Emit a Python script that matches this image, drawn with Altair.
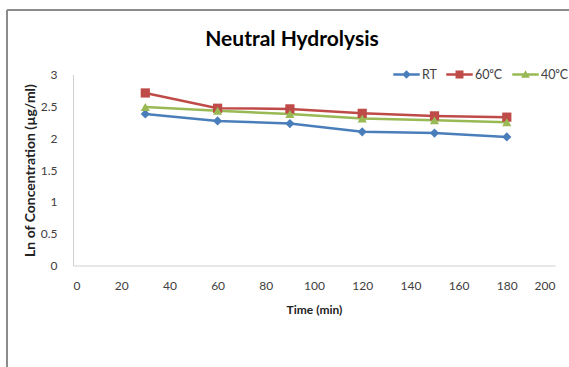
import altair as alt
import pandas as pd

time_min = [30, 60, 90, 120, 150, 180]
rt = [2.38, 2.27, 2.23, 2.10, 2.08, 2.02]
c60 = [2.71, 2.47, 2.46, 2.39, 2.35, 2.33]
c40 = [2.49, 2.43, 2.38, 2.31, 2.28, 2.25]
series_names = ["RT", "60⁰C", "40⁰C"]
series_colors = ["#4A7EBB", "#BE4B48", "#98B954"]
x_ticks = list(range(0, 201, 20))
y_ticks = [0, 0.5, 1, 1.5, 2, 2.5, 3]
chart_title = "Neutral Hydrolysis"

rows = []
for name, vals in zip(series_names, [rt, c60, c40]):
    for t, v in zip(time_min, vals):
        rows.append({"Time": t, "Value": v, "Series": name})
df = pd.DataFrame(rows)

FONT = "Lato"

x_enc = alt.X("Time:Q", scale=alt.Scale(domain=[0, 200], nice=False),
              axis=alt.Axis(values=x_ticks, title="Time (min)", grid=False, ticks=False,
                            domainColor="#d0d0d0", labelPadding=15, titlePadding=13,
                            labelFontSize=12, titleFontSize=12, titleFontWeight="bold",
                            labelColor="#404040", titleColor="#222222", labelFont=FONT, titleFont=FONT))
y_enc = alt.Y("Value:Q", scale=alt.Scale(domain=[0, 3], nice=False),
              axis=alt.Axis(values=y_ticks, format="~g", title="Ln of Concentration (µg/ml)",
                            grid=False, ticks=False,
                            domainColor="#d0d0d0", labelPadding=16, titlePadding=3,
                            labelFontSize=12, titleFontSize=14, titleFontWeight="bold",
                            labelColor="#404040", titleColor="#222222", labelFont=FONT, titleFont=FONT))
color_scale = alt.Scale(domain=series_names, range=series_colors)

lines = alt.Chart(df).mark_line(strokeWidth=2.5).encode(
    x=x_enc, y=y_enc,
    color=alt.Color("Series:N", scale=color_scale, legend=None),
)

points = alt.Chart(df).mark_point(filled=True, opacity=1, size=85).encode(
    x=x_enc, y=y_enc,
    color=alt.Color("Series:N", scale=color_scale, legend=None),
    shape=alt.Shape("Series:N", scale=alt.Scale(domain=series_names,
                                                range=["diamond", "square", "triangle-up"]), legend=None),
)

legend_paths = [
    "M-1,-0.1 L1,-0.1 L1,0.1 L-1,0.1 Z M0,-0.33 L0.33,0 L0,0.33 L-0.33,0 Z",
    "M-1,-0.1 L1,-0.1 L1,0.1 L-1,0.1 Z M-0.3,-0.3 L0.3,-0.3 L0.3,0.3 L-0.3,0.3 Z",
    "M-1,-0.1 L1,-0.1 L1,0.1 L-1,0.1 Z M0,-0.33 L0.33,0.24 L-0.33,0.24 Z",
]

leg = alt.Legend(title=None, orient="none", legendX=320, legendY=-13.5, direction="horizontal",
                 symbolSize=700, symbolStrokeWidth=0, labelFont=FONT, labelFontSize=12.5,
                 labelColor="#404040", columnPadding=9, labelOffset=2)

legend_layer = alt.Chart(df).transform_calculate(Value="-10").mark_point(
    filled=True, opacity=1, clip=True).encode(
    x=x_enc,
    y=y_enc,
    color=alt.Color("Series:N", scale=color_scale, legend=leg),
    shape=alt.Shape("Series:N", scale=alt.Scale(domain=series_names, range=legend_paths), legend=leg),
)

title_layer = alt.Chart(pd.DataFrame({"t": [chart_title]})).mark_text(
    font=FONT, fontSize=21, fontWeight="bold", color="#000000", align="center", baseline="alphabetic"
).encode(text="t:N", x=alt.value(219), y=alt.value(-28.5))

frame_v = alt.Chart(df).mark_rule(color="#8c8c8c", strokeWidth=1.5).encode(
    x=alt.value(-66), y=alt.value(-64.5), y2=alt.value(400))
frame_h = alt.Chart(df).mark_rule(color="#8c8c8c", strokeWidth=1.5).encode(
    x=alt.value(-66), x2=alt.value(600), y=alt.value(-64.5))

chart = alt.layer(lines, points, legend_layer, title_layer, frame_v, frame_h).resolve_scale(
    shape="independent", color="independent"
).properties(
    width=482, height=191,
    autosize=alt.AutoSizeParams(type="none"),
    padding={"left": 73, "top": 74.5, "right": 14, "bottom": 101.5},
    background="white",
).configure_view(stroke=None)

chart.save("out.html", embed_options={"renderer": "svg", "actions": False})
